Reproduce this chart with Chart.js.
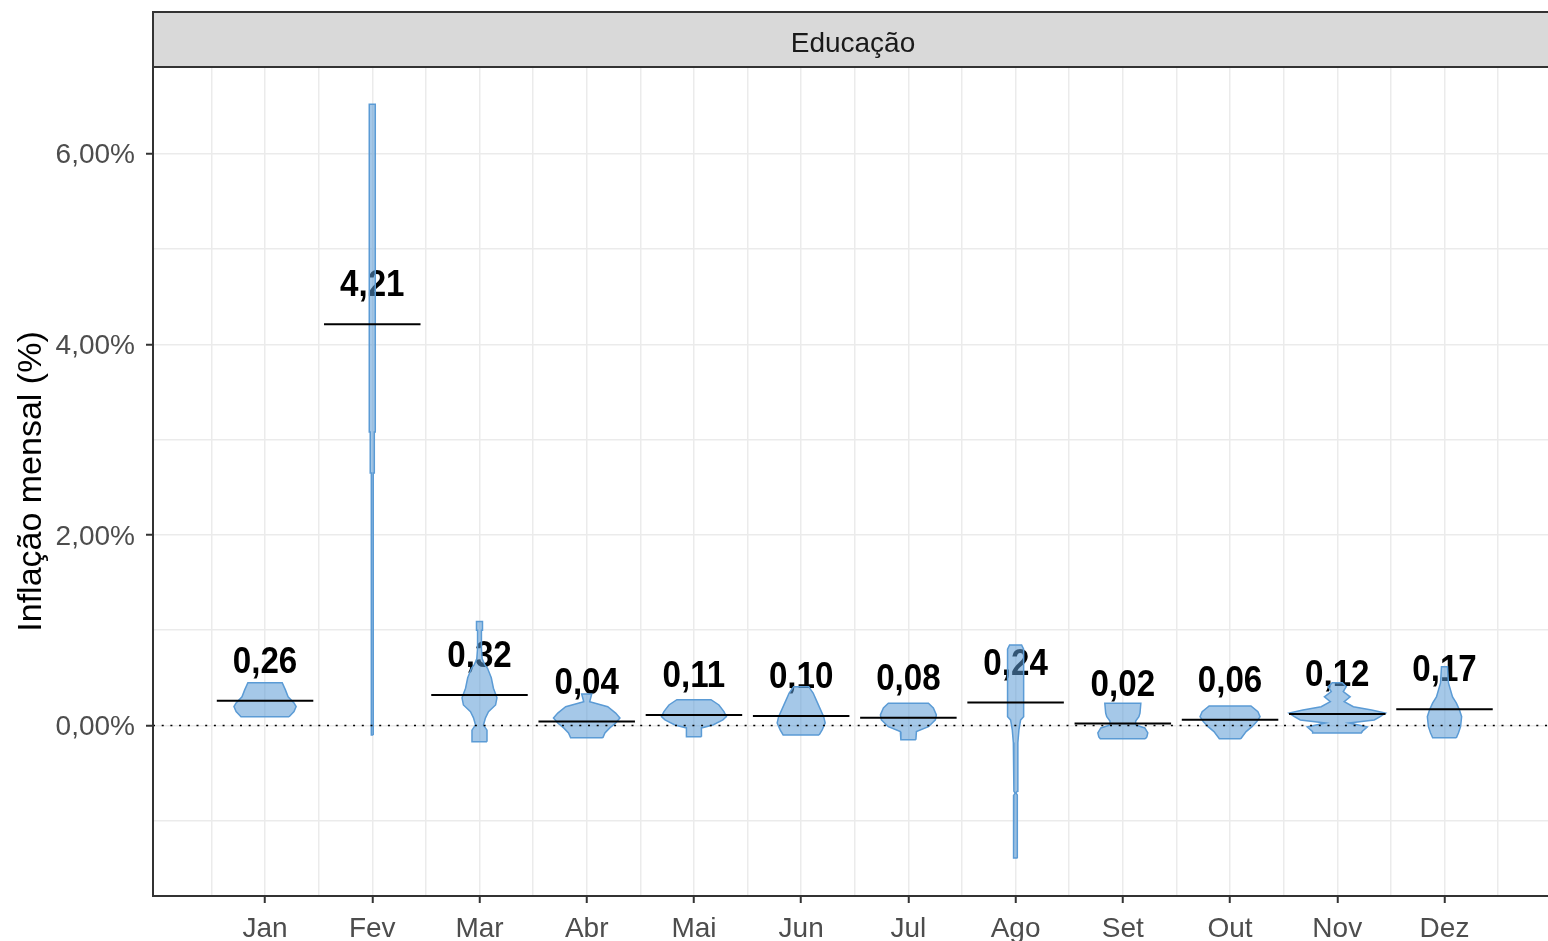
<!DOCTYPE html>
<html>
<head>
<meta charset="utf-8">
<script src="https://cdn.jsdelivr.net/npm/chart.js@4.4.1/dist/chart.umd.min.js"></script>
<style>
  html, body { margin: 0; padding: 0; background: #fff; overflow: hidden; }
  canvas { display: block; }
</style>
</head>
<body>
<canvas id="chart" width="1560" height="941"></canvas>
<script>
// months and the mean label shown above each violin
const months = ["Jan", "Fev", "Mar", "Abr", "Mai", "Jun", "Jul", "Ago", "Set", "Out", "Nov", "Dez"];
const means = [0.26, 4.21, 0.32, 0.04, 0.11, 0.10, 0.08, 0.24, 0.02, 0.06, 0.12, 0.17];

// violin outlines: [inflation %, half width in category units], bottom to top
const shapeJan = [[0.092, 0.224], [0.145, 0.27], [0.197, 0.29], [0.236, 0.27], [0.30, 0.215], [0.373, 0.19], [0.449, 0.16]];
const shapeFev = [[-0.10, 0.009], [2.65, 0.009], [2.65, 0.019], [3.08, 0.019], [3.08, 0.028], [6.52, 0.028]];
const shapeMar = [[-0.17, 0.07], [-0.05, 0.07], [0.005, 0.037], [0.08, 0.056], [0.145, 0.084], [0.215, 0.15], [0.29, 0.163],
  [0.39, 0.13], [0.50, 0.11], [0.60, 0.075], [0.635, 0.05], [0.70, 0.025], [0.81, 0.018], [1.00, 0.018], [1.00, 0.028], [1.09, 0.028]];
const shapeAbr = [[-0.13, 0.15], [-0.079, 0.17], [-0.026, 0.215], [0.026, 0.27], [0.079, 0.31], [0.13, 0.27], [0.197, 0.196],
  [0.25, 0.028], [0.28, 0.035], [0.33, 0.047]];
const shapeMai = [[-0.12, 0.07], [-0.026, 0.07], [0.005, 0.177], [0.058, 0.27], [0.092, 0.303], [0.145, 0.28], [0.215, 0.233], [0.27, 0.159]];
const shapeJun = [[-0.10, 0.168], [-0.047, 0.196], [0.026, 0.224], [0.092, 0.21], [0.197, 0.168], [0.268, 0.14], [0.34, 0.112], [0.407, 0.07]];
const shapeJul = [[-0.15, 0.07], [-0.065, 0.075], [-0.013, 0.187], [0.058, 0.252], [0.11, 0.261], [0.184, 0.233], [0.233, 0.187]];
const shapeAgo = [[-1.39, 0.019], [-0.73, 0.016], [-0.71, 0.004], [-0.69, 0.016], [-0.18, 0.021], [-0.047, 0.031], [0.058, 0.047],
  [0.092, 0.075], [0.80, 0.075], [0.845, 0.056]];
const shapeSet = [[-0.14, 0.21], [-0.12, 0.224], [-0.079, 0.233], [-0.026, 0.205], [0.005, 0.12], [0.047, 0.12], [0.092, 0.15], [0.13, 0.16], [0.233, 0.168]];
const shapeOut = [[-0.14, 0.10], [-0.065, 0.15], [-0.013, 0.205], [0.04, 0.25], [0.092, 0.28], [0.145, 0.26], [0.205, 0.195]];
const shapeNov = [[-0.079, 0.23], [-0.065, 0.23], [-0.016, 0.28], [0.026, 0.11], [0.058, 0.345], [0.092, 0.40], [0.13, 0.45],
  [0.163, 0.32], [0.197, 0.15], [0.25, 0.065], [0.30, 0.12], [0.355, 0.056], [0.407, 0.084], [0.449, 0.047]];
const shapeDez = [[-0.13, 0.11], [-0.079, 0.13], [-0.013, 0.15], [0.092, 0.16], [0.163, 0.14], [0.236, 0.11], [0.30, 0.075], [0.446, 0.037], [0.617, 0.028]];

const shapes = [shapeJan, shapeFev, shapeMar, shapeAbr, shapeMai, shapeJun, shapeJul, shapeAgo, shapeSet, shapeOut, shapeNov, shapeDez];

// axis settings
const xMin = -0.045, xMax = 13.04;
const yMin = -1.79, yMax = 6.91;
const yTicks = [-1, 0, 1, 2, 3, 4, 5, 6];
const xTicks = [0.5, 1, 1.5, 2, 2.5, 3, 3.5, 4, 4.5, 5, 5.5, 6, 6.5, 7, 7.5, 8, 8.5, 9, 9.5, 10, 10.5, 11, 11.5, 12, 12.5];
const meanHalfWidth = 0.45;

const blue = "#5B9BD5";
const font = "'Liberation Sans', Arial, sans-serif";

// build closed polygons for the violins
function violinPoints(profile, center) {
  const right = profile.map(([y, w]) => ({ x: center + w, y: y }));
  const left = profile.slice().reverse().map(([y, w]) => ({ x: center - w, y: y }));
  const pts = right.concat(left);
  pts.push(pts[0]);
  return pts;
}

const datasets = [];

// zero reference line (on top)
datasets.push({
  data: [{ x: xMin, y: 0 }, { x: xMax, y: 0 }],
  borderColor: "#000",
  borderWidth: 1.5,
  borderDash: [2, 6.7],
  pointRadius: 0,
  showLine: true,
  order: 0
});

// mean segments
means.forEach((m, i) => {
  datasets.push({
    data: [{ x: i + 1 - meanHalfWidth, y: m }, { x: i + 1 + meanHalfWidth, y: m }],
    borderColor: "#000",
    borderWidth: 2,
    pointRadius: 0,
    showLine: true,
    order: 1
  });
});

// violins
shapes.forEach((s, i) => {
  datasets.push({
    data: violinPoints(s, i + 1),
    borderColor: blue,
    backgroundColor: "rgba(91,155,213,0.55)",
    borderWidth: 1.5,
    fill: "shape",
    tension: 0,
    pointRadius: 0,
    showLine: true,
    order: 2
  });
});

// mean labels, drawn under the semi-transparent violins
const meanLabels = {
  id: "meanLabels",
  beforeDatasetsDraw(chart) {
    const { ctx, scales: { x, y } } = chart;
    ctx.save();
    ctx.fillStyle = "#000";
    ctx.textAlign = "center";
    ctx.textBaseline = "alphabetic";
    ctx.font = "bold 36px " + font;
    means.forEach((m, i) => {
      const px = x.getPixelForValue(i + 1);
      const py = y.getPixelForValue(m) - 28;
      ctx.save();
      ctx.translate(px, py);
      ctx.scale(0.92, 1);
      ctx.fillText(m.toFixed(2).replace(".", ","), 0, 0);
      ctx.restore();
    });
    ctx.restore();
  }
};

// panel border, facet strip and y title
const frame = {
  id: "frame",
  afterDraw(chart) {
    const { ctx, chartArea: a } = chart;
    ctx.save();
    ctx.strokeStyle = "#333";
    ctx.lineWidth = 2;
    ctx.strokeRect(a.left, a.top, a.right - a.left, a.bottom - a.top);

    const stripTop = 12;
    ctx.fillStyle = "#d9d9d9";
    ctx.fillRect(a.left, stripTop, a.right - a.left, a.top - stripTop);
    ctx.strokeRect(a.left, stripTop, a.right - a.left, a.top - stripTop);

    ctx.fillStyle = "#1a1a1a";
    ctx.font = "28px " + font;
    ctx.textAlign = "center";
    ctx.textBaseline = "middle";
    ctx.fillText("Educação", (a.left + 1553) / 2, (stripTop + a.top) / 2 + 5);

    ctx.translate(32, (a.top + a.bottom) / 2);
    ctx.rotate(-Math.PI / 2);
    ctx.fillStyle = "#000";
    ctx.font = "34px " + font;
    ctx.fillText("Inflação mensal (%)", 0, 0);
    ctx.restore();
  }
};

const xTickColor = (ctx) => (ctx.tick && Number.isInteger(ctx.tick.value) ? "#333" : "rgba(0,0,0,0)");
const yTickColor = (ctx) => (ctx.tick && ctx.tick.value % 2 === 0 ? "#333" : "rgba(0,0,0,0)");

new Chart(document.getElementById("chart").getContext("2d"), {
  type: "scatter",
  data: { datasets: datasets },
  options: {
    responsive: false,
    animation: false,
    events: [],
    layout: { padding: { left: 0, top: 67, right: 4, bottom: 0 } },
    plugins: { legend: { display: false }, tooltip: { enabled: false } },
    scales: {
      x: {
        type: "linear",
        min: xMin,
        max: xMax,
        afterBuildTicks: (scale) => { scale.ticks = xTicks.map(v => ({ value: v })); },
        afterFit: (scale) => { scale.height = 45; },
        border: { display: false },
        grid: {
          color: "#ebebeb",
          lineWidth: 1.5,
          drawTicks: true,
          tickLength: 7,
          tickWidth: 2,
          tickColor: xTickColor
        },
        ticks: {
          autoSkip: false,
          maxRotation: 0,
          padding: 9,
          color: "#4d4d4d",
          font: { family: font, size: 28 },
          callback: (v) => (Number.isInteger(v) ? months[v - 1] : "")
        }
      },
      y: {
        type: "linear",
        min: yMin,
        max: yMax,
        afterBuildTicks: (scale) => { scale.ticks = yTicks.map(v => ({ value: v })); },
        afterFit: (scale) => { scale.width = 153; },
        border: { display: false },
        grid: {
          color: "#ebebeb",
          lineWidth: 1.5,
          drawTicks: true,
          tickLength: 7,
          tickWidth: 2,
          tickColor: yTickColor
        },
        ticks: {
          padding: 11,
          labelOffset: 2,
          color: "#4d4d4d",
          font: { family: font, size: 28 },
          callback: (v) => (v % 2 === 0 ? v.toFixed(2).replace(".", ",") + "%" : "")
        }
      }
    }
  },
  plugins: [meanLabels, frame]
});
</script>
</body>
</html>
